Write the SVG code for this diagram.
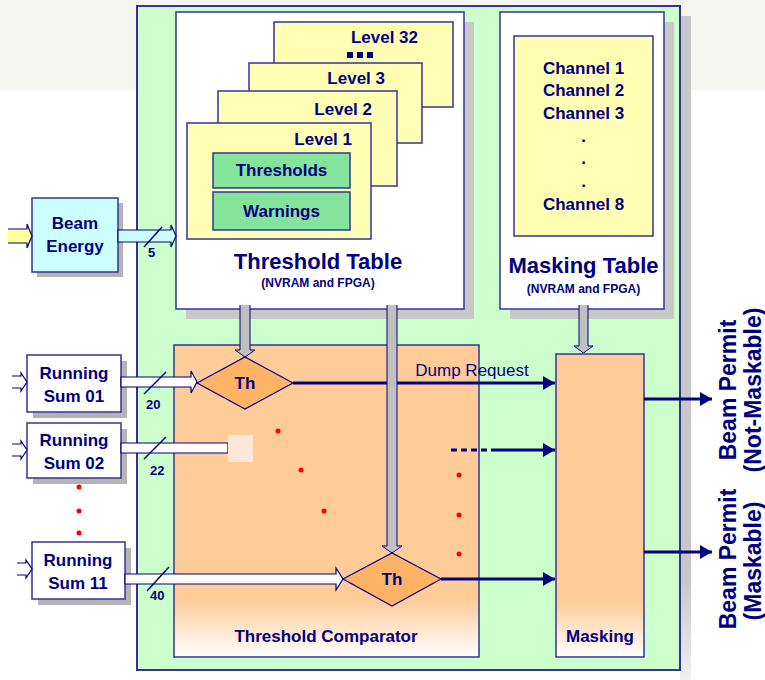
<svg xmlns="http://www.w3.org/2000/svg" width="765" height="680" viewBox="0 0 765 680">
  <defs>
    <style>
      .t { font-family: "Liberation Sans", Arial, sans-serif; font-weight: bold; fill: #000080; }
      .box { stroke: #333399; stroke-width: 1.5; }
      .nav { stroke: #000080; stroke-width: 3; fill: none; }
      .blk { stroke: #000080; stroke-width: 1.2; }
      .gray { fill: #c0c0c0; stroke: #000080; stroke-width: 1; }
      .sh { fill: #b4b4b4; }
      .dot { fill: #ff0000; }
      .lvl { fill: #ffffb3; stroke: #333399; stroke-width: 1.5; }
    </style>
    <linearGradient id="peach" x1="0" y1="0" x2="0" y2="1">
      <stop offset="0" stop-color="#ffcc99"/>
      <stop offset="0.82" stop-color="#ffcc99"/>
      <stop offset="1" stop-color="#ffffff"/>
    </linearGradient>
    <linearGradient id="shadeV" x1="0" y1="0" x2="0" y2="1">
      <stop offset="0" stop-color="#c8c8c8"/>
      <stop offset="0.85" stop-color="#c8c8c8"/>
      <stop offset="1" stop-color="#f0f0f0"/>
    </linearGradient>
    <marker id="ah" viewBox="0 0 12 14" refX="12" refY="7" markerWidth="12" markerHeight="14" markerUnits="userSpaceOnUse" orient="auto">
      <path d="M0,0 L12,7 L0,14 Z" fill="#000080"/>
    </marker>
  </defs>

  <!-- page background -->
  <rect x="0" y="0" width="765" height="680" fill="#ffffff"/>
  <rect x="0" y="0" width="765" height="90" fill="#f5f5f1"/>

  <!-- main unit enclosure -->
  <g id="unit">
    <rect x="680" y="16" width="11" height="664" fill="url(#shadeV)"/>
    <rect x="137" y="6" width="543" height="664" fill="#ccffcc" stroke="#333399" stroke-width="2"/>
  </g>

  <!-- threshold table -->
  <g id="threshold-table">
    <rect x="186" y="22" width="288" height="297" fill="#c8c8c8"/>
    <rect x="176" y="12" width="288" height="297" fill="#ffffff" class="box"/>
    <rect x="274" y="22" width="179" height="85" class="lvl"/>
    <text x="418" y="43" class="t" font-size="17" text-anchor="end">Level 32</text>
    <rect x="347" y="52" width="6" height="6" fill="#000080"/>
    <rect x="357" y="52" width="6" height="6" fill="#000080"/>
    <rect x="367" y="52" width="6" height="6" fill="#000080"/>
    <rect x="249" y="63" width="173" height="80" class="lvl"/>
    <text x="385" y="84" class="t" font-size="17" text-anchor="end">Level 3</text>
    <rect x="218" y="91" width="179" height="95" class="lvl"/>
    <text x="372" y="115" class="t" font-size="17" text-anchor="end">Level 2</text>
    <rect x="187" y="123" width="184" height="116" class="lvl"/>
    <text x="352" y="145" class="t" font-size="17" text-anchor="end">Level 1</text>
    <rect x="213" y="153" width="137" height="35" fill="#84e49c" class="box"/>
    <text x="281.5" y="176" class="t" font-size="17" text-anchor="middle">Thresholds</text>
    <rect x="213" y="192" width="137" height="38" fill="#84e49c" class="box"/>
    <text x="281.5" y="217" class="t" font-size="17" text-anchor="middle">Warnings</text>
    <text x="318" y="269" class="t" font-size="22" text-anchor="middle">Threshold Table</text>
    <text x="318" y="287" class="t" font-size="12" text-anchor="middle">(NVRAM and FPGA)</text>
  </g>

  <!-- masking table -->
  <g id="masking-table">
    <rect x="510" y="22" width="164" height="297" fill="#c8c8c8"/>
    <rect x="500" y="12" width="164" height="297" fill="#ffffff" class="box"/>
    <rect x="514" y="36" width="139" height="200" fill="#ffffb3" class="box"/>
    <g class="t" font-size="17" text-anchor="middle">
      <text x="583.5" y="74">Channel 1</text>
      <text x="583.5" y="96">Channel 2</text>
      <text x="583.5" y="119">Channel 3</text>
      <text x="583.5" y="142">.</text>
      <text x="583.5" y="164">.</text>
      <text x="583.5" y="187">.</text>
      <text x="583.5" y="210">Channel 8</text>
    </g>
    <text x="583.5" y="273" class="t" font-size="22" text-anchor="middle">Masking Table</text>
    <text x="583.5" y="293" class="t" font-size="12" text-anchor="middle">(NVRAM and FPGA)</text>
  </g>

  <!-- threshold comparator -->
  <g id="threshold-comparator">
    <rect x="174" y="345" width="305" height="312" fill="url(#peach)" class="box"/>
    <text x="326" y="642" class="t" font-size="17" text-anchor="middle">Threshold Comparator</text>
  </g>

  <!-- masking logic -->
  <g id="masking">
    <rect x="556" y="354" width="88" height="303" fill="url(#peach)" class="box"/>
    <text x="600" y="642" class="t" font-size="17" text-anchor="middle">Masking</text>
  </g>

  <!-- beam energy input -->
  <g id="beam-energy">
    <rect x="37" y="203" width="86" height="74" class="sh"/>
    <rect x="32" y="198" width="86" height="74" fill="#ccffff" class="box"/>
    <text x="75" y="229" class="t" font-size="17" text-anchor="middle">Beam</text>
    <text x="75" y="252" class="t" font-size="17" text-anchor="middle">Energy</text>
  </g>

  <!-- running sum inputs -->
  <g id="running-sum-01">
    <rect x="33" y="361" width="94" height="57" class="sh"/>
    <rect x="27" y="355" width="94" height="57" fill="#ffffff" class="box"/>
    <text x="74" y="379" class="t" font-size="17" text-anchor="middle">Running</text>
    <text x="74" y="402" class="t" font-size="17" text-anchor="middle">Sum 01</text>
  </g>
  <g id="running-sum-02">
    <rect x="33" y="429" width="94" height="55" class="sh"/>
    <rect x="27" y="423" width="94" height="55" fill="#ffffff" class="box"/>
    <text x="74" y="446" class="t" font-size="17" text-anchor="middle">Running</text>
    <text x="74" y="469" class="t" font-size="17" text-anchor="middle">Sum 02</text>
  </g>
  <g id="running-sum-11">
    <rect x="38" y="548" width="93" height="57" class="sh"/>
    <rect x="32" y="542" width="93" height="57" fill="#ffffff" class="box"/>
    <text x="78" y="566" class="t" font-size="17" text-anchor="middle">Running</text>
    <text x="78" y="589" class="t" font-size="17" text-anchor="middle">Sum 11</text>
  </g>

  <!-- connectors -->
  <g id="connectors">
    <!-- external inputs -->
    <path d="M8,229 H27 V224 L32,236 L27,248 V243 H8 Z" fill="#ffff99" stroke="none"/>
    <path d="M8,229 H27 V224 L32,236 L27,248 V243 H8" fill="none" class="blk"/>
    <path d="M12,376 H21 V373 L27,382 L21,391 V388 H12" fill="#ffffff" class="blk"/>
    <path d="M12,444 H21 V441 L27,450 L21,459 V456 H12" fill="#ffffff" class="blk"/>
    <path d="M17,563 H26 V560 L32,569 L26,578 V575 H17" fill="#ffffff" class="blk"/>

    <!-- bus arrows into the unit -->
    <path d="M118,230 H171 V225 L176,236 L171,247 V242 H118 Z" fill="#ccffff" class="blk"/>
    <path d="M121,377 H191 V371 L197,382 L191,393 V387 H121 Z" fill="#ffffff" class="blk"/>
    <path d="M121,443 H228 V453 H121 Z" fill="#ffffff" class="blk"/>
    <rect x="228" y="435" width="25" height="27" fill="#fde8d8"/>
    <path d="M125,574 H336 V568 L343,579 L336,590 V584 H125 Z" fill="#ffffff" class="blk"/>

    <!-- bus width marks -->
    <g stroke="#000080" stroke-width="1.5">
      <line x1="144" y1="247" x2="162" y2="227"/>
      <line x1="144" y1="394" x2="166" y2="372"/>
      <line x1="144" y1="459" x2="166" y2="437"/>
      <line x1="147" y1="591" x2="169" y2="567"/>
    </g>
    <g class="t" font-size="13">
      <text x="148" y="257">5</text>
      <text x="146" y="409">20</text>
      <text x="150" y="475">22</text>
      <text x="150" y="600">40</text>
    </g>

    <!-- comparator outputs -->
    <line x1="293" y1="383" x2="555" y2="383" class="nav" marker-end="url(#ah)"/>
    <text x="472" y="376" font-family="Liberation Sans, Arial, sans-serif" font-size="17" fill="#000080" text-anchor="middle">Dump Request</text>
    <line x1="451" y1="450" x2="499" y2="450" class="nav" stroke-dasharray="6 4"/>
    <line x1="497" y1="450" x2="555" y2="450" class="nav" marker-end="url(#ah)"/>
    <line x1="441" y1="579" x2="555" y2="579" class="nav" marker-end="url(#ah)"/>

    <!-- beam permit outputs -->
    <line x1="644" y1="399" x2="712" y2="399" class="nav" marker-end="url(#ah)"/>
    <line x1="644" y1="552" x2="712" y2="552" class="nav" marker-end="url(#ah)"/>

    <!-- table feeds -->
    <path d="M240,305 V350 H235 L245,357 L255,350 H250 V305" class="gray"/>
    <path d="M387,305 V546 H382 L392,553 L402,546 H397 V305" class="gray"/>
    <path d="M579,305 V346 H574 L583.5,353 L593,346 H588 V305" class="gray"/>
  </g>

  <!-- comparator stages -->
  <g id="th-1">
    <polygon points="197,383 245,357 293,383 245,409" fill="#ffb366" stroke="#000080" stroke-width="1.2"/>
    <text x="245" y="389" class="t" font-size="17" text-anchor="middle">Th</text>
  </g>
  <g id="th-11">
    <polygon points="343,579 392,553 441,579 392,606" fill="#ffb366" stroke="#000080" stroke-width="1.2"/>
    <text x="392" y="585" class="t" font-size="17" text-anchor="middle">Th</text>
  </g>

  <!-- ellipsis dots -->
  <g id="ellipsis">
    <circle cx="79" cy="487" r="2.5" class="dot"/>
    <circle cx="79" cy="511" r="2.5" class="dot"/>
    <circle cx="79" cy="533" r="2.5" class="dot"/>
    <circle cx="278" cy="431" r="2.5" class="dot"/>
    <circle cx="301" cy="470" r="2.5" class="dot"/>
    <circle cx="324" cy="511" r="2.5" class="dot"/>
    <circle cx="459" cy="475" r="2.5" class="dot"/>
    <circle cx="459" cy="515" r="2.5" class="dot"/>
    <circle cx="459" cy="554" r="2.5" class="dot"/>
  </g>

  <!-- output labels -->
  <g id="beam-permit-not-maskable" class="t" font-size="23" text-anchor="middle">
    <text transform="translate(736,390) rotate(-90)">Beam Permit</text>
    <text transform="translate(761,390) rotate(-90)">(Not-Maskable)</text>
  </g>
  <g id="beam-permit-maskable" class="t" font-size="23" text-anchor="middle">
    <text transform="translate(736,559) rotate(-90)">Beam Permit</text>
    <text transform="translate(761,561) rotate(-90)">(Maskable)</text>
  </g>
</svg>
